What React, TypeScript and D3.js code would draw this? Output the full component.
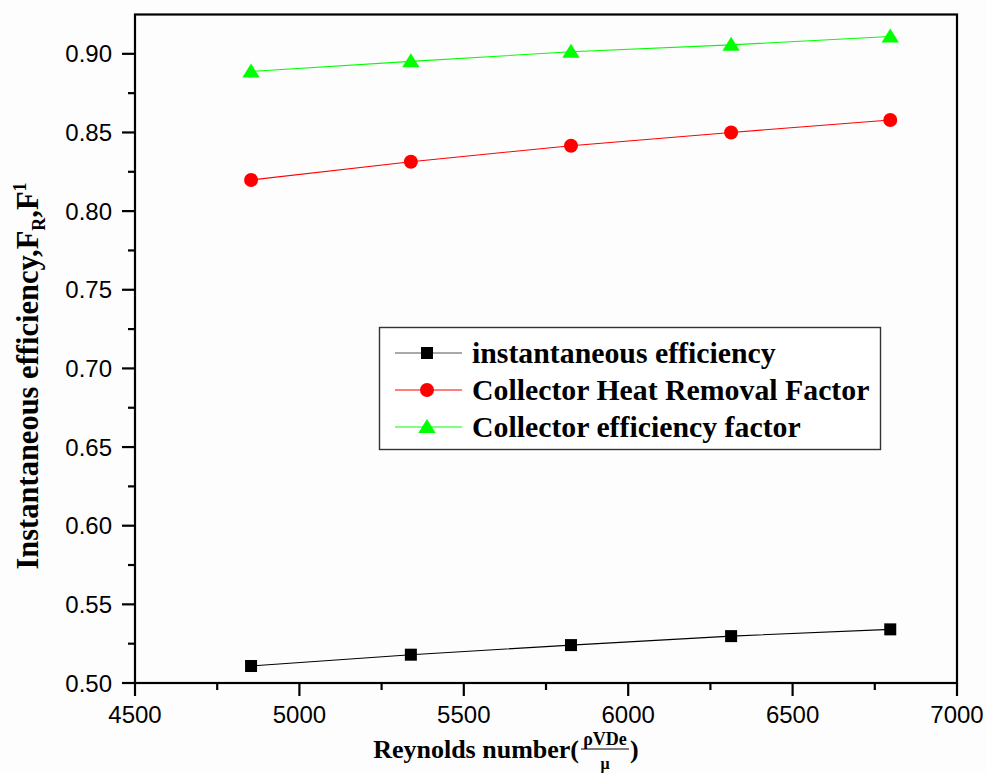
import React, { useEffect, useRef } from "react";
import * as d3 from "d3";

const reynolds = [4853, 5339, 5826, 6313, 6797];
const instantaneousEff = [0.5108, 0.518, 0.5241, 0.5298, 0.5341];
const heatRemovalFactor = [0.8198, 0.8314, 0.8416, 0.85, 0.8579];
const efficiencyFactor = [0.8888, 0.8952, 0.9013, 0.9057, 0.911];

const seriesNames = [
  "instantaneous efficiency",
  "Collector Heat Removal Factor",
  "Collector efficiency factor",
];
const seriesColors = ["#000000", "#ff0000", "#00ff00"];
const seriesShapes = ["square", "circle", "triangle"];

const xTicks = [4500, 5000, 5500, 6000, 6500, 7000];
const yTicks = [0.5, 0.55, 0.6, 0.65, 0.7, 0.75, 0.8, 0.85, 0.9];

const W = 987;
const H = 773;
const M = { left: 135, right: 957, top: 14.5, bottom: 683 };

const SANS = "'Liberation Sans', Arial, sans-serif";
const SERIF = "'Liberation Serif', 'Times New Roman', serif";

function marker(
  g: any,
  shape: string,
  color: string,
  cx: number,
  cy: number
) {
  if (shape === "square") {
    g.append("rect")
      .attr("x", cx - 6)
      .attr("y", cy - 6)
      .attr("width", 12)
      .attr("height", 12)
      .attr("fill", color);
  } else if (shape === "circle") {
    g.append("circle").attr("cx", cx).attr("cy", cy).attr("r", 7).attr("fill", color);
  } else {
    g.append("path")
      .attr("d", `M${cx},${cy - 8}L${cx + 8.7},${cy + 6}L${cx - 8.7},${cy + 6}Z`)
      .attr("fill", color);
  }
}

export default function App() {
  const ref = useRef<SVGSVGElement | null>(null);

  useEffect(() => {
    const svg = d3.select(ref.current as SVGSVGElement);
    svg.selectAll("*").remove();

    svg.append("rect").attr("width", W).attr("height", H).attr("fill", "#fdfdfd");

    const x = d3.scaleLinear().domain([4500, 7000]).range([M.left, M.right]);
    const y = d3.scaleLinear().domain([0.5, 0.925]).range([M.bottom, M.top]);

    const xMinor = d3.range(4750, 7000, 500);
    const yMinor = d3.range(0.525, 0.925, 0.05);

    const axes = svg.append("g").attr("stroke", "#000").attr("stroke-width", 2.2);
    xTicks.forEach((t) =>
      axes.append("line").attr("x1", x(t)).attr("x2", x(t)).attr("y1", M.bottom).attr("y2", M.bottom + 13)
    );
    xMinor.forEach((t) =>
      axes.append("line").attr("x1", x(t)).attr("x2", x(t)).attr("y1", M.bottom).attr("y2", M.bottom + 7)
    );
    yTicks.forEach((t) =>
      axes.append("line").attr("x1", M.left - 13).attr("x2", M.left).attr("y1", y(t)).attr("y2", y(t))
    );
    yMinor.forEach((t) =>
      axes.append("line").attr("x1", M.left - 7).attr("x2", M.left).attr("y1", y(t)).attr("y2", y(t))
    );
    axes
      .append("rect")
      .attr("x", M.left)
      .attr("y", M.top)
      .attr("width", M.right - M.left)
      .attr("height", M.bottom - M.top)
      .attr("fill", "none");

    const lab = svg.append("g").attr("font-family", SANS).attr("font-size", 24).attr("fill", "#000");
    xTicks.forEach((t) =>
      lab.append("text").attr("x", x(t)).attr("y", 723).attr("text-anchor", "middle").text(String(t))
    );
    yTicks.forEach((t) =>
      lab
        .append("text")
        .attr("x", 112)
        .attr("y", y(t) + 8.5)
        .attr("text-anchor", "end")
        .text(t.toFixed(2))
    );

    const all = [instantaneousEff, heatRemovalFactor, efficiencyFactor];
    const line = d3
      .line<number>()
      .x((_, i) => x(reynolds[i]))
      .y((d) => y(d));
    all.forEach((vals, si) => {
      const g = svg.append("g");
      g.append("path")
        .attr("d", line(vals) as string)
        .attr("fill", "none")
        .attr("stroke", seriesColors[si])
        .attr("stroke-width", 1.1);
      vals.forEach((v, i) => marker(g, seriesShapes[si], seriesColors[si], x(reynolds[i]), y(v)));
    });

    const lg = svg.append("g");
    lg.append("rect")
      .attr("x", 379.5)
      .attr("y", 327.5)
      .attr("width", 501)
      .attr("height", 122)
      .attr("fill", "#fff")
      .attr("stroke", "#333")
      .attr("stroke-width", 1.4);
    seriesNames.forEach((name, i) => {
      const cy = 353 + i * 37;
      lg.append("line")
        .attr("x1", 395)
        .attr("x2", 462)
        .attr("y1", cy)
        .attr("y2", cy)
        .attr("stroke", i === 0 ? "#555" : seriesColors[i])
        .attr("stroke-width", 1.1);
      marker(lg, seriesShapes[i], seriesColors[i], 427, cy);
      lg.append("text")
        .attr("x", 472)
        .attr("y", cy + 10)
        .attr("font-family", SERIF)
        .attr("font-weight", "bold")
        .attr("font-size", 29.8)
        .attr("fill", "#000")
        .text(name);
    });

    const yt = svg
      .append("text")
      .attr("transform", "translate(38,376) rotate(-90)")
      .attr("text-anchor", "middle")
      .attr("font-family", SERIF)
      .attr("font-weight", "bold")
      .attr("font-size", 30.5)
      .attr("fill", "#000");
    yt.append("tspan").text("Instantaneous efficiency,F");
    yt.append("tspan").attr("font-size", 18).attr("dy", 7).text("R");
    yt.append("tspan").attr("dy", -7).text(",F");
    yt.append("tspan").attr("font-size", 18).attr("dy", -12).text("1");

    const xt = svg.append("g").attr("font-family", SERIF).attr("font-weight", "bold").attr("fill", "#000");
    xt.append("text").attr("x", 579).attr("y", 758).attr("text-anchor", "end").attr("font-size", 26).text("Reynolds number(");
    xt.append("text").attr("x", 605).attr("y", 745).attr("text-anchor", "middle").attr("font-size", 18).text("ρVDe");
    xt.append("line").attr("x1", 581).attr("x2", 629).attr("y1", 749).attr("y2", 749).attr("stroke", "#000").attr("stroke-width", 1.2);
    xt.append("text").attr("x", 605).attr("y", 769).attr("text-anchor", "middle").attr("font-size", 16).text("μ");
    xt.append("text").attr("x", 630).attr("y", 758).attr("font-size", 26).text(")");
  }, []);

  return (
    <svg
      ref={ref}
      width={W}
      height={H}
      style={{ position: "absolute", left: 0, top: 0, display: "block" }}
    />
  );
}
